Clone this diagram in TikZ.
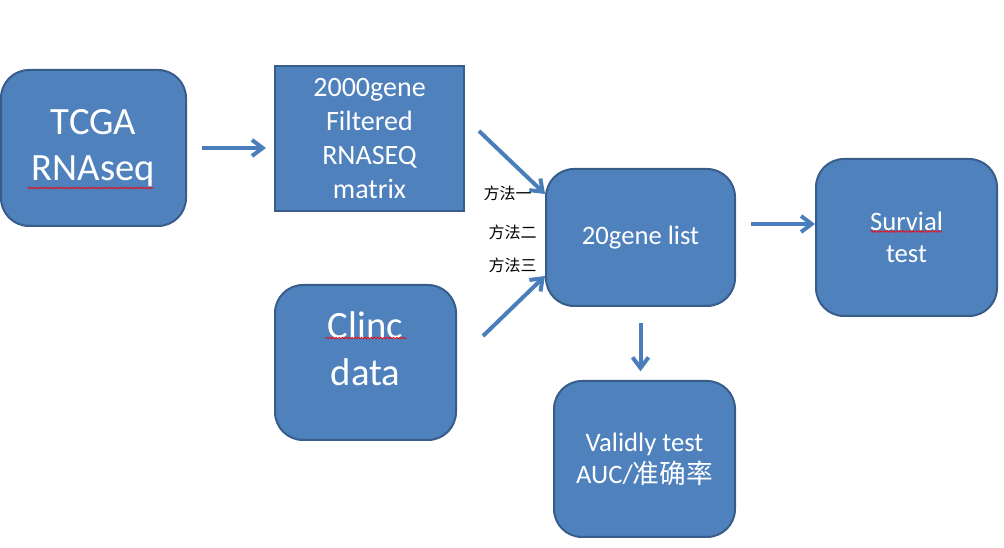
\documentclass[tikz,border=0pt]{standalone}
\usepackage{fontspec}
\setmainfont{Carlito}
\newfontfamily\cjk{Noto Sans CJK SC}
\usepackage{tikz}
\usetikzlibrary{calc}
\usetikzlibrary{arrows.meta}
\usetikzlibrary{decorations.pathmorphing}
\definecolor{boxfill}{RGB}{79,129,189}
\definecolor{boxline}{RGB}{56,93,138}
\definecolor{arrowblue}{RGB}{74,126,187}
\tikzset{every picture/.style={line width=0.75pt}}
\tikzset{
  blk/.style={draw=boxline, fill=boxfill, line width=1.5pt, text=white, align=center, inner sep=0pt},
  rblk/.style={blk, rounded corners=21pt},
  bigtxt/.style={font=\fontsize{29}{35}\selectfont},
  midtxt/.style={font=\fontsize{21}{25.5}\selectfont},
  smltxt/.style={font=\fontsize{20}{24}\selectfont},
  arr/.style={draw=arrowblue, line width=3pt, -{Straight Barb[length=8pt,width=12pt]}},
  spell/.style={draw=red, line width=0.5pt, decorate, decoration={snake,amplitude=0.6pt,segment length=2.4pt}},
  method/.style={anchor=east, inner sep=0pt, font=\cjk\fontsize{12}{14}\selectfont}
}

\begin{document}
\begin{tikzpicture}[x=0.75pt,y=0.75pt,yscale=-1,xscale=1]
\useasboundingbox (0,0) rectangle (1004,548);

%Shape: Rounded Rect [TCGA]
\node (tcga) [rblk, bigtxt, minimum width=138.75pt, minimum height=117pt] at (93.5,148) {TCGA\\RNAseq};
%Shape: Rectangle [filtered matrix]
\node (matrix) [blk, midtxt, minimum width=141.75pt, minimum height=108.75pt] at (369.5,138.5) {2000gene\\Filtered\\RNASEQ\\matrix};
%Shape: Rounded Rect [clinical]
\node (clinc) [rblk, minimum width=135.75pt, minimum height=116.25pt,
  label={[bigtxt, text=white, align=center, yshift=10.5pt]center:Clinc\\data}] at (365.5,362.5) {};
%Shape: Rounded Rect [gene list]
\node (list) [rblk, smltxt, minimum width=141.75pt, minimum height=102.75pt] at (640.5,237.5) {20gene list};
%Shape: Rounded Rect [survival]
\node (surv) [rblk, smltxt, minimum width=135.75pt, minimum height=117.75pt] at (906.5,237.5) {Survial\\test};
%Shape: Rounded Rect [validation]
\node (valid) [rblk, smltxt, minimum width=135.75pt, minimum height=117pt] at (644.5,459) {Validly test\\AUC/{\cjk 准确率}};

%Straight Lines
\draw [arr, shorten <=11.25pt, shorten >=6pt] (tcga.east) -- (tcga.east -| matrix.west);
%Straight Lines
\draw [arr] ($(matrix.east)+(14,-7.5)$) -- ($(list.north west)+(0,26)$);
%Straight Lines
\draw [arr] ($(clinc.north east)+(26,52)$) -- ($(list.south west)+(0,-31)$);
%Straight Lines
\draw [arr] ($(list.east)+(15,-13.5)$) -- ($(surv.west)+(0,-13.5)$);
%Straight Lines
\draw [arr, shorten <=12pt, shorten >=6.5pt] (list.south) -- (list.south |- valid.north);

% Text Node
\node (m1) [method] at ($(list.west)+(-13,-44.5)$) {方法一};
% Text Node
\node (m2) [method] at ($(list.west)+(-8,-5.5)$) {方法二};
% Text Node
\node (m3) [method] at ($(list.west)+(-8,27.5)$) {方法三};

%spelling marks
\draw [spell] ($(tcga.center)+(-66,40)$) -- ++(126,0);
\draw [spell] ($(clinc.center)+(-40,-24.5)$) -- ++(81,0);
\draw [spell] ($(surv.center)+(-36,-6)$) -- ++(71,0);

\end{tikzpicture}
\end{document}
